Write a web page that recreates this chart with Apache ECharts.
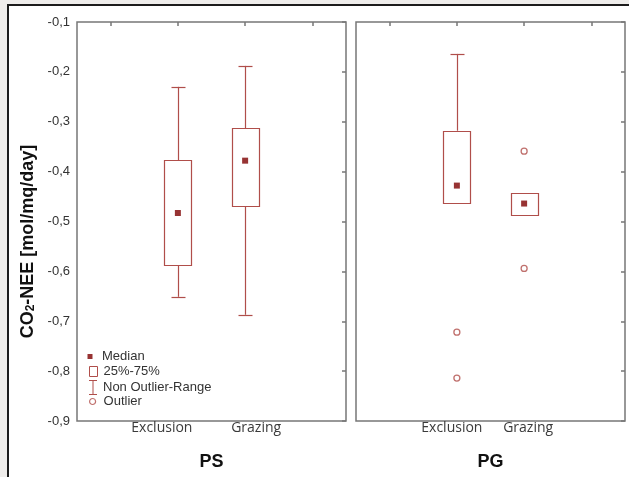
<!DOCTYPE html>
<html>
<head>
<meta charset="UTF-8">
<title>CO2-NEE boxplot</title>
<script src="https://cdn.jsdelivr.net/npm/echarts@6.0.0/dist/echarts.min.js"></script>
<style>
  html, body { margin: 0; padding: 0; background: #efedeb; }
  #chart { width: 629px; height: 477px; }
</style>
</head>
<body>
<div id="chart"></div>
<script>
// data
const categories = [' ', 'Exclusion', 'Grazing', '  '];
const groupIndex = [1, 2];

// PS panel
const psLow    = [-0.651, -0.687];
const psQ1     = [-0.588, -0.470];
const psMedian = [-0.483, -0.378];
const psQ3     = [-0.377, -0.313];
const psHigh   = [-0.230, -0.188];

// PG panel (null = no whisker)
const pgLow    = [null, null];
const pgQ1     = [-0.462, -0.486];
const pgMedian = [-0.428, -0.464];
const pgQ3     = [-0.318, -0.442];
const pgHigh   = [-0.164, null];
const pgOutlierX = [1, 1, 2, 2];
const pgOutlierY = [-0.722, -0.814, -0.359, -0.594];

const yMin = -0.9, yMax = -0.1, yStep = 0.1;

const boxColor = '#b04e4a';
const medColor = '#7d0000';
const frameColor = '#777';

function boxData(q1, q3) {
    return groupIndex.map((x, i) => [x, q1[i], q3[i]]);
}
function whiskerData(low, q1, q3, high) {
    const out = [];
    groupIndex.forEach((x, i) => {
        if (high[i] != null) out.push([x, q3[i], high[i]]);
        if (low[i] != null) out.push([x, q1[i], low[i]]);
    });
    return out;
}
function pointData(xs, ys) {
    return xs.map((x, i) => [x, ys[i]]);
}

function renderBox(params, api) {
    const x = api.value(0);
    const a = api.coord([x, api.value(1)]);
    const b = api.coord([x, api.value(2)]);
    const w = 27;
    return {
        type: 'rect',
        shape: { x: Math.round(a[0] - w / 2) + 0.5, y: Math.round(b[1]) + 0.5, width: w, height: Math.round(a[1] - b[1]) },
        style: { fill: '#fff', stroke: boxColor, lineWidth: 1.2 }
    };
}
function renderWhisker(params, api) {
    const x = api.value(0);
    const a = api.coord([x, api.value(1)]);
    const b = api.coord([x, api.value(2)]);
    const cx = Math.round(a[0]) + 0.5;
    const cap = 7;
    return {
        type: 'group',
        children: [
            { type: 'line', shape: { x1: cx, y1: a[1], x2: cx, y2: b[1] }, style: { stroke: boxColor, lineWidth: 1.2 } },
            { type: 'line', shape: { x1: cx - cap, y1: Math.round(b[1]) + 0.5, x2: cx + cap, y2: Math.round(b[1]) + 0.5 }, style: { stroke: boxColor, lineWidth: 1.2 } }
        ]
    };
}

function labelFmt(value) {
    if (value === 'Exclusion') return '{e|Exclusion}';
    if (value === 'Grazing') return '{g|Grazing}';
    return '';
}
// shift the two labels apart like in the original
function labelRich(shiftE, shiftG) {
    const base = { fontFamily: 'Open Sans', fontSize: 14, color: '#3a3a3a' };
    return {
        e: Object.assign({ padding: [0, 2 * shiftE, 0, 0] }, base),
        g: Object.assign({ padding: [0, 0, 0, 2 * shiftG] }, base)
    };
}

const grids = [
    { left: 77, top: 22, width: 269, height: 399, show: true, backgroundColor: '#fff', borderColor: frameColor, borderWidth: 1.5, outerBoundsMode: 'none' },
    { left: 356, top: 22, width: 269, height: 399, show: true, backgroundColor: '#fff', borderColor: frameColor, borderWidth: 1.5, outerBoundsMode: 'none' }
];

function bottomAxis(gi, title, shiftE, shiftG) {
    return {
        type: 'category', gridIndex: gi, data: categories, position: 'bottom',
        axisLine: { show: false }, axisTick: { show: false }, splitLine: { show: false },
        axisLabel: { interval: 0, margin: 0, formatter: labelFmt, rich: labelRich(shiftE, shiftG) },
        name: title, nameLocation: 'middle', nameGap: 32,
        nameTextStyle: { fontFamily: 'Liberation Sans', fontWeight: 'bold', fontSize: 18, color: '#111' }
    };
}
function topAxis(gi) {
    return {
        type: 'category', gridIndex: gi, data: categories, position: 'top',
        axisLine: { show: false },
        axisTick: { show: true, inside: true, length: 4, alignWithLabel: true, lineStyle: { color: frameColor, width: 1.5 } },
        axisLabel: { show: false }, splitLine: { show: false }
    };
}
function leftAxis(gi, showLabels) {
    const ax = {
        type: 'value', gridIndex: gi, position: 'left', min: yMin, max: yMax, interval: yStep,
        axisLine: { show: false }, axisTick: { show: false }, splitLine: { show: false },
        axisLabel: {
            show: showLabels, margin: 7, color: '#333', fontFamily: 'Liberation Sans', fontSize: 13,
            formatter: v => v.toFixed(1).replace('.', ',')
        }
    };
    if (showLabels) {
        ax.name = 'CO{sub|2}-NEE [mol/mq/day]';
        ax.nameLocation = 'middle';
        ax.nameRotate = 90;
        ax.nameGap = 40;
        ax.nameTextStyle = {
            fontFamily: 'Liberation Sans', fontWeight: 'bold', fontSize: 18, color: '#111',
            padding: [0, 40, 0, 0],
            rich: { sub: { fontFamily: 'Liberation Sans', fontWeight: 'bold', fontSize: 12, color: '#111', verticalAlign: 'bottom', lineHeight: 12 } }
        };
    }
    return ax;
}
function rightAxis(gi) {
    return {
        type: 'value', gridIndex: gi, position: 'right', min: yMin, max: yMax, interval: yStep,
        axisLine: { show: false },
        axisTick: { show: true, inside: true, length: 4, lineStyle: { color: frameColor, width: 1.5 } },
        axisLabel: { show: false }, splitLine: { show: false }
    };
}

function legendItem(name, top, center, w, h, textStart, icon, style) {
    const left = center - w / 2;
    return {
        data: [{ name: name, icon: icon }], orient: 'vertical', left: left, top: top,
        itemWidth: w, itemHeight: h, selectedMode: false, padding: 0,
        itemStyle: style,
        textStyle: { fontFamily: 'Liberation Sans', fontSize: 13, color: '#333', padding: [0, 0, 0, textStart - (left + w + 5)] }
    };
}

const option = {
    backgroundColor: '#efedeb',
    animation: false,
    graphic: [{
        type: 'rect', silent: true, z: -10,
        shape: { x: 8, y: 5, width: 660, height: 520 },
        style: { fill: '#fff', stroke: '#1c1c1c', lineWidth: 2 }
    }],
    grid: grids,
    xAxis: [bottomAxis(0, 'PS', 16, 11), bottomAxis(1, 'PG', 5, 4), topAxis(0), topAxis(1)],
    yAxis: [leftAxis(0, true), leftAxis(1, false), rightAxis(0), rightAxis(1)],
    legend: [
        legendItem('Median', 350, 90, 5, 5, 102, 'rect', { color: medColor, borderWidth: 0 }),
        legendItem('25%-75%', 365, 93, 8, 10, 103, 'rect', { color: '#fff', borderColor: boxColor, borderWidth: 1 }),
        legendItem('Non Outlier-Range', 380, 93, 8, 15, 103,
            'path://M0,0H8V1H4.5V14H8V15H0V14H3.5V1H0Z', { color: boxColor, borderWidth: 0 }),
        legendItem('Outlier', 395, 92, 6, 6, 103, 'circle', { color: '#fff', borderColor: boxColor, borderWidth: 1.2 })
    ],
    series: [
        { name: 'Non Outlier-Range', type: 'custom', xAxisIndex: 0, yAxisIndex: 0, renderItem: renderWhisker,
          itemStyle: { color: boxColor }, data: whiskerData(psLow, psQ1, psQ3, psHigh) },
        { name: 'Non Outlier-Range', type: 'custom', xAxisIndex: 1, yAxisIndex: 1, renderItem: renderWhisker,
          itemStyle: { color: boxColor }, data: whiskerData(pgLow, pgQ1, pgQ3, pgHigh) },
        { name: '25%-75%', type: 'custom', xAxisIndex: 0, yAxisIndex: 0, renderItem: renderBox,
          itemStyle: { color: boxColor }, data: boxData(psQ1, psQ3) },
        { name: '25%-75%', type: 'custom', xAxisIndex: 1, yAxisIndex: 1, renderItem: renderBox,
          itemStyle: { color: boxColor }, data: boxData(pgQ1, pgQ3) },
        { name: 'Median', type: 'scatter', xAxisIndex: 0, yAxisIndex: 0, symbol: 'rect', symbolSize: 6,
          itemStyle: { color: medColor }, data: pointData(groupIndex, psMedian) },
        { name: 'Median', type: 'scatter', xAxisIndex: 1, yAxisIndex: 1, symbol: 'rect', symbolSize: 6,
          itemStyle: { color: medColor }, data: pointData(groupIndex, pgMedian) },
        { name: 'Outlier', type: 'scatter', xAxisIndex: 1, yAxisIndex: 1, symbol: 'circle', symbolSize: 6,
          itemStyle: { color: '#fff', borderColor: boxColor, borderWidth: 1.3 }, data: pointData(pgOutlierX, pgOutlierY) }
    ]
};

const chart = echarts.init(document.getElementById('chart'));
chart.setOption(option);
</script>
</body>
</html>
